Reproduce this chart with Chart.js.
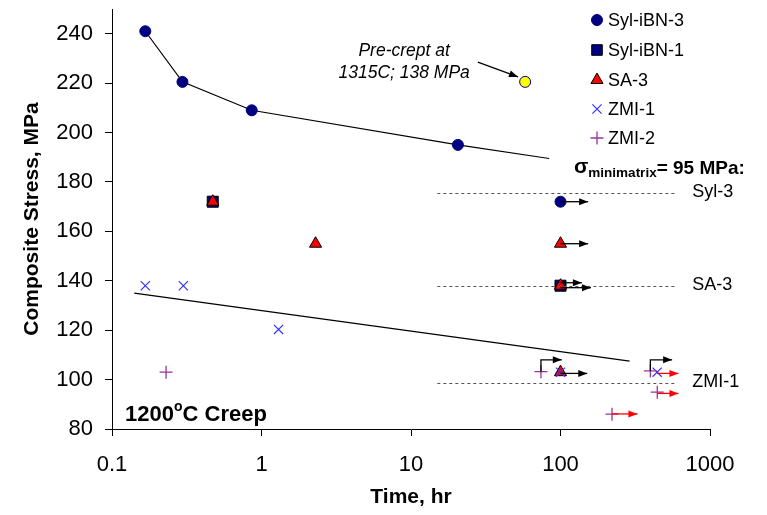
<!DOCTYPE html>
<html>
<head>
<meta charset="utf-8">
<script src="https://cdn.jsdelivr.net/npm/chart.js@4.4.0/dist/chart.umd.min.js"></script>
<style>
  body { margin: 0; background: #fff; }
  #wrap { width: 767px; height: 515px; }
</style>
</head>
<body>
<div id="wrap"><canvas id="creep_chart" width="767" height="515"></canvas></div>
<script>
// values (time in hr, stress in MPa)
const sylIbn3 = [[0.167, 241], [0.296, 220.5], [0.86, 209], [20.6, 195], [100, 172]];
const sylIbn1 = [[0.472, 172], [100, 138]];
const sa3 = [[0.472, 172], [2.3, 155], [100, 155], [100, 138], [100, 103]];
const zmi1 = [[0.167, 138], [0.3, 138], [1.3, 120.3], [100, 103], [443, 103]];
const zmi2 = [[0.23, 103], [74, 103.2], [399, 103.5], [444, 94.9], [221, 86]];
const preCrept = [[58, 220.5]];

// trend lines
const sylFit = [[0.167, 241], [0.296, 220.5], [0.86, 209], [20.6, 195], [84, 189.5]];
const zmiFit = [[0.141, 135], [290, 107.5]];

// run-out arrows (still running)
const blackArrows = [
  [[100, 172], [153, 172]],
  [[100, 155], [153, 155]],
  [[100, 139.2], [139, 139.2]],
  [[100, 137.2], [160, 137.2]],
  [[100, 102.5], [151, 102.5]],
  [[74, 103.2], [74, 108], [102, 108]],
  [[399, 103.5], [399, 108], [558, 108]]
];
const redArrows = [
  [[443, 102.5], [615, 102.5]],
  [[444, 94.4], [615, 94.4]],
  [[221, 86.1], [327, 86.1]]
];

// minimatrix reference lines
const refStress = [175.5, 138, 98.7];
const refLabels = ['Syl-3', 'SA-3', 'ZMI-1'];
const refFrom = 15, refTo = 603;

const xTicks = [0.1, 1, 10, 100, 1000];
const xTickLabels = ['0.1', '1', '10', '100', '1000'];
const yTicks = [80, 100, 120, 140, 160, 180, 200, 220, 240];

const FONT = '"Liberation Sans", Arial, sans-serif';

const toXY = arr => arr.map(p => ({ x: p[0], y: p[1] }));

const series = [
  { label: 'Syl-iBN-3', data: sylIbn3, pointStyle: 'circle', pointRadius: 5.5, bg: '#000080', border: '#000080', bw: 1 },
  { label: 'Syl-iBN-1', data: sylIbn1, pointStyle: 'rect', pointRadius: 7.8, bg: '#000080', border: '#000000', bw: 1 },
  { label: 'SA-3', data: sa3, pointStyle: 'triangle', pointRadius: 7, bg: '#ff0000', border: '#000000', bw: 1 },
  { label: 'ZMI-1', data: zmi1, pointStyle: 'crossRot', pointRadius: 6.5, bg: '#3333ff', border: '#3333ff', bw: 1.2 },
  { label: 'ZMI-2', data: zmi2, pointStyle: 'cross', pointRadius: 6.5, bg: '#993399', border: '#993399', bw: 1.3 }
];

const datasets = series.map((s, i) => ({
  label: s.label,
  data: toXY(s.data),
  pointStyle: s.pointStyle,
  pointRadius: s.pointRadius,
  pointBackgroundColor: s.bg,
  pointBorderColor: s.border,
  pointBorderWidth: s.bw,
  showLine: false,
  order: series.length - i + 1
}));

datasets.push({
  label: 'pre-crept',
  data: toXY(preCrept),
  pointStyle: 'circle',
  pointRadius: 5.5,
  pointBackgroundColor: '#ffff00',
  pointBorderColor: '#000080',
  pointBorderWidth: 1,
  order: 1
});

[sylFit, zmiFit].forEach(f => {
  datasets.push({
    label: 'fit',
    data: toXY(f),
    showLine: true,
    borderColor: '#000000',
    borderWidth: 1.2,
    pointRadius: 0,
    order: 10
  });
});

function arrowHead(ctx, x0, y0, x1, y1, color) {
  const a = Math.atan2(y1 - y0, x1 - x0);
  const len = 9, w = 3.5;
  ctx.fillStyle = color;
  ctx.beginPath();
  ctx.moveTo(x1, y1);
  ctx.lineTo(x1 - len * Math.cos(a) + w * Math.sin(a), y1 - len * Math.sin(a) - w * Math.cos(a));
  ctx.lineTo(x1 - len * Math.cos(a) - w * Math.sin(a), y1 - len * Math.sin(a) + w * Math.cos(a));
  ctx.closePath();
  ctx.fill();
}

function drawPolyArrow(ctx, xs, ys, pts, color) {
  const px = pts.map(p => [xs.getPixelForValue(p[0]), ys.getPixelForValue(p[1])]);
  ctx.strokeStyle = color;
  ctx.lineWidth = 1.3;
  ctx.beginPath();
  px.forEach((p, i) => i ? ctx.lineTo(p[0], p[1]) : ctx.moveTo(p[0], p[1]));
  ctx.stroke();
  const a = px[px.length - 2], b = px[px.length - 1];
  arrowHead(ctx, a[0], a[1], b[0], b[1], color);
}

// legend markers drawn by hand
function marker(ctx, s, x, y) {
  const r = s.pointRadius;
  ctx.fillStyle = s.bg;
  ctx.strokeStyle = s.border;
  ctx.lineWidth = s.bw;
  ctx.beginPath();
  if (s.pointStyle === 'circle') {
    ctx.arc(x, y, r, 0, Math.PI * 2);
    ctx.fill(); ctx.stroke();
  } else if (s.pointStyle === 'rect') {
    const h = r * Math.SQRT1_2;
    ctx.rect(x - h, y - h, 2 * h, 2 * h);
    ctx.fill(); ctx.stroke();
  } else if (s.pointStyle === 'triangle') {
    ctx.moveTo(x, y - r);
    ctx.lineTo(x + r * 0.866, y + r * 0.5);
    ctx.lineTo(x - r * 0.866, y + r * 0.5);
    ctx.closePath();
    ctx.fill(); ctx.stroke();
  } else if (s.pointStyle === 'crossRot') {
    const h = r * Math.SQRT1_2;
    ctx.moveTo(x - h, y - h); ctx.lineTo(x + h, y + h);
    ctx.moveTo(x + h, y - h); ctx.lineTo(x - h, y + h);
    ctx.stroke();
  } else {
    ctx.moveTo(x - r, y); ctx.lineTo(x + r, y);
    ctx.moveTo(x, y - r); ctx.lineTo(x, y + r);
    ctx.stroke();
  }
}

const extras = {
  id: 'extras',
  afterDatasetsDraw(chart) {
    const ctx = chart.ctx;
    const xs = chart.scales.x, ys = chart.scales.y;
    ctx.save();

    // dashed reference lines + labels
    ctx.setLineDash([3, 3]);
    ctx.strokeStyle = '#555';
    ctx.lineWidth = 1;
    refStress.forEach((v, i) => {
      const y = Math.round(ys.getPixelForValue(v)) + 0.5;
      ctx.beginPath();
      ctx.moveTo(xs.getPixelForValue(refFrom), y);
      ctx.lineTo(xs.getPixelForValue(refTo), y);
      ctx.stroke();
    });
    ctx.setLineDash([]);
    ctx.fillStyle = '#000';
    ctx.font = '18px ' + FONT;
    ctx.textAlign = 'left';
    ctx.textBaseline = 'middle';
    refStress.forEach((v, i) => {
      ctx.fillText(refLabels[i], xs.getPixelForValue(refTo) + 15, ys.getPixelForValue(v) - 1);
    });

    blackArrows.forEach(a => drawPolyArrow(ctx, xs, ys, a, '#000000'));
    redArrows.forEach(a => drawPolyArrow(ctx, xs, ys, a, '#ff0000'));

    // pre-crept note
    ctx.fillStyle = '#000';
    ctx.font = 'italic 17.5px ' + FONT;
    ctx.textAlign = 'center';
    const nx = xs.getPixelForValue(9);
    ctx.fillText('Pre-crept at', nx, ys.getPixelForValue(233));
    ctx.fillText('1315C; 138 MPa', nx, ys.getPixelForValue(224));
    drawPolyArrow(ctx, xs, ys, [[28, 228.5], [52, 222.5]], '#000000');

    // sigma minimatrix text
    ctx.textAlign = 'left';
    ctx.textBaseline = 'alphabetic';
    let tx = 574;
    ctx.font = 'bold 21px ' + FONT;
    ctx.fillText('σ', tx, 173);
    tx += ctx.measureText('σ').width;
    ctx.font = 'bold 13.5px ' + FONT;
    ctx.fillText('minimatrix', tx, 177);
    tx += ctx.measureText('minimatrix').width;
    ctx.font = 'bold 19px ' + FONT;
    ctx.fillText('= 95 MPa:', tx, 174);

    // 1200oC Creep
    const cx = chart.chartArea.left + 13, cy = chart.chartArea.bottom - 8;
    ctx.font = 'bold 22px ' + FONT;
    ctx.fillText('1200', cx, cy);
    let w = ctx.measureText('1200').width;
    ctx.font = 'bold 14px ' + FONT;
    ctx.fillText('o', cx + w, cy - 10);
    w += ctx.measureText('o').width;
    ctx.font = 'bold 22px ' + FONT;
    ctx.fillText('C Creep', cx + w, cy);

    // legend
    ctx.font = '18px ' + FONT;
    ctx.textBaseline = 'middle';
    const rows = [20, 50, 80, 109, 138];
    series.forEach((s, i) => {
      const ms = Object.assign({}, s);
      if (s.pointStyle === 'rect') ms.pointRadius = 7.5;
      marker(ctx, ms, 597, rows[i]);
      ctx.fillStyle = '#000';
      ctx.fillText(s.label, 608, rows[i] + 1);
    });

    ctx.restore();
  }
};

const ctx = document.getElementById('creep_chart').getContext('2d');
const chart = new Chart(ctx, {
  type: 'scatter',
  data: { datasets: datasets },
  options: {
    responsive: false,
    animation: false,
    layout: { padding: { left: 0, right: 57, top: 9, bottom: 0 } },
    plugins: { legend: { display: false }, tooltip: { enabled: false } },
    scales: {
      x: {
        type: 'logarithmic',
        min: 0.1,
        max: 1000,
        afterBuildTicks: s => { s.ticks = xTicks.map(v => ({ value: v })); },
        afterFit: s => { s.height = 86; s.paddingLeft = 0; s.paddingRight = 0; },
        ticks: {
          callback: (v, i) => xTickLabels[i],
          color: '#000',
          font: { family: FONT, size: 22 },
          padding: 16,
          maxRotation: 0
        },
        grid: { drawOnChartArea: false, tickLength: 7, color: '#000' },
        border: { color: '#000', width: 1 },
        title: {
          display: true,
          text: 'Time, hr',
          color: '#000',
          font: { family: FONT, size: 21, weight: 'bold' },
          padding: { top: 0, bottom: 5 }
        }
      },
      y: {
        type: 'linear',
        min: 80,
        max: 250,
        afterBuildTicks: s => { s.ticks = yTicks.map(v => ({ value: v })); },
        afterFit: s => { s.width = 112; s.paddingTop = 0; s.paddingBottom = 0; },
        ticks: {
          color: '#000',
          font: { family: FONT, size: 22 },
          padding: 12
        },
        grid: { drawOnChartArea: false, tickLength: 7, color: '#000' },
        border: { color: '#000', width: 1 },
        title: {
          display: true,
          text: 'Composite Stress, MPa',
          color: '#000',
          font: { family: FONT, size: 21, weight: 'bold' },
          padding: { top: 20, bottom: 0 }
        }
      }
    }
  },
  plugins: [extras]
});
</script>
</body>
</html>
